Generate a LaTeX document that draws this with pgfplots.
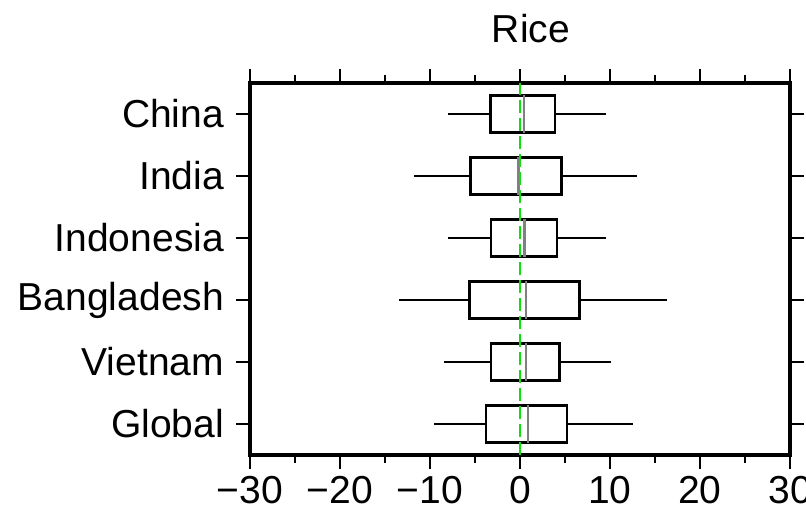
\documentclass[border=0pt]{standalone}
\usepackage{fontspec}
\setmainfont{Liberation Sans}
\usepackage{pgfplots}
\usepgfplotslibrary{statistics}
\pgfplotsset{compat=1.18}
\definecolor{zgreen}{RGB}{10,225,10}
\begin{document}
\begin{tikzpicture}
\begin{axis}[
  scale only axis, width=270pt, height=186pt,
  xmin=-30, xmax=30, ymin=0.5, ymax=6.5,
  xtick={-30,-20,-10,0,10,20,30},
  xticklabels={−30,−20,−10,0,10,20,30},
  minor xtick={-25,-15,-5,5,15,25},
  ytick={1,2,3,4,5,6},
  yticklabels={Global,Vietnam,Bangladesh,Indonesia,India,China},
  xtick pos=both, xticklabel pos=lower,
  ytick pos=both, yticklabel pos=left,
  tick align=outside, major tick length=7pt, minor tick length=4pt,
  every tick/.style={black, line width=1pt},
  axis line style={line width=1.8pt},
  font=\fontsize{19.5}{22}\selectfont,
  yticklabel style={xshift=-2.5pt},
  /pgf/number format/assume math mode=true,
  title={Rice},
  title style={anchor=base, yshift=14.5pt, xshift=5.5pt, font=\fontsize{19.5}{22}\selectfont},
  boxplot/draw direction=x,
  clip=false,
]
\pgfplotsset{
  boxplot/box extend=0.6,
  boxplot/whisker extend=0,
  boxplot/every median/.style={draw=gray, line width=1.2pt},
}
\addplot[black, line width=1.3pt, boxplot prepared={draw position=6,
  lower whisker=-8.0, lower quartile=-3.3, median=0.45, upper quartile=3.9, upper whisker=9.5}] coordinates {};
\addplot[black, line width=1.3pt, boxplot prepared={draw position=5,
  lower whisker=-11.8, lower quartile=-5.5, median=-0.15, upper quartile=4.6, upper whisker=13.0}] coordinates {};
\addplot[black, line width=1.2pt, boxplot prepared={draw position=4,
  lower whisker=-8.0, lower quartile=-3.2, median=0.5, upper quartile=4.1, upper whisker=9.5}] coordinates {};
\addplot[black, line width=1.4pt, boxplot prepared={draw position=3,
  lower whisker=-13.5, lower quartile=-5.6, median=0.65, upper quartile=6.6, upper whisker=16.3}] coordinates {};
\addplot[black, line width=1.2pt, boxplot prepared={draw position=2,
  lower whisker=-8.5, lower quartile=-3.2, median=0.65, upper quartile=4.4, upper whisker=10.1}] coordinates {};
\addplot[black, line width=1.2pt, boxplot prepared={draw position=1,
  lower whisker=-9.6, lower quartile=-3.8, median=0.9, upper quartile=5.2, upper whisker=12.6}] coordinates {};
\addplot[zgreen, line width=1.1pt, dash pattern=on 6.5pt off 2.5pt] coordinates {(0,0.5) (0,6.5)};
\end{axis}
\pgfresetboundingbox
\path[use as bounding box] ([xshift=-125pt,yshift=-27.5pt]current axis.south west) rectangle ([xshift=8pt,yshift=41.5pt]current axis.north east);
\end{tikzpicture}
\end{document}
